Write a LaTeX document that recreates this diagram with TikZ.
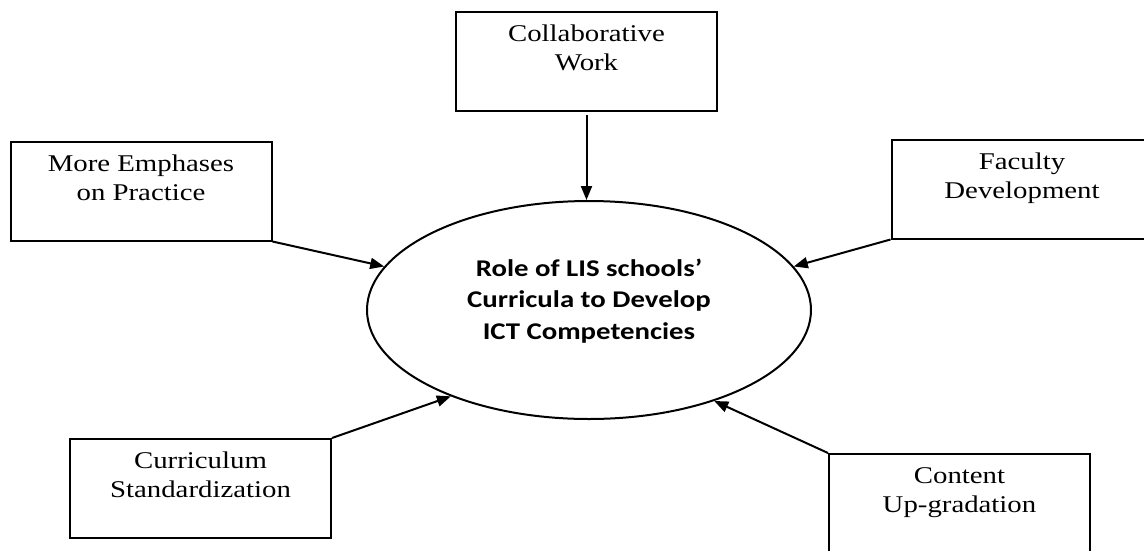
\documentclass[tikz,border=0pt]{standalone}
\usepackage{fontspec}
\setmainfont[FakeStretch=1.2]{Liberation Serif}
\newfontfamily\hubfont[FakeStretch=1.2]{Carlito}
\usetikzlibrary{shapes.geometric,arrows.meta,positioning}
\tikzset{
  factor/.style={draw, line width=2pt, minimum width=261pt, minimum height=99pt, inner sep=0pt},
  factortext/.style={align=center, inner sep=0pt, font=\fontsize{24}{29}\selectfont},
  hub/.style={draw, ellipse, line width=2pt, minimum width=444pt, minimum height=218pt, inner sep=0pt},
  hubtext/.style={align=center, inner sep=0pt, font=\hubfont\bfseries\fontsize{24}{31.5}\selectfont},
  feed/.style={line width=2pt, -{Triangle[length=14pt,width=11pt]}}
}
\begin{document}
\begin{tikzpicture}[x=1pt,y=-1pt]
    \useasboundingbox (0,0) rectangle (1144,550);
    \clip (0,0) rectangle (1144,550);
    \node[hub] (hub) at (589,310) {};
    \node[hubtext, yshift=9pt] (hubtitle) at (hub) {Role of LIS schools’\\Curricula to Develop\\ICT Competencies};
    \node[factor] (collab) at (586.5,61.5) {};
    \node[factor] (emph) at (141,191) {};
    \node[factor] (faculty) at (1022,189) {};
    \node[factor] (curric) at (200.5,488.5) {};
    \node[factor] (content) at (959.5,503.5) {};
    \node[factortext, below=14pt of collab.north] (collabtext) {Collaborative\\Work};
    \node[factortext, below=14pt of emph.north] (emphtext) {More Emphases\\on Practice};
    \node[factortext, below=14pt of faculty.north] (facultytext) {Faculty\\Development};
    \node[factortext, below=14pt of curric.north] (currictext) {Curriculum\\Standardization};
    \node[factortext, below=14pt of content.north] (contenttext) {Content\\Up-gradation};
    \draw[feed] ([yshift=-3pt]collab.south) -- (collab.south |- hub.north);
    \draw[feed] (emph.south east) -- (hub.168.5);
    \draw[feed] (faculty.south west) -- (hub.12);
    \draw[feed] (curric.north east) -- (hub.212);
    \draw[feed] (content.north west) -- (hub.324.5);
\end{tikzpicture}
\end{document}
